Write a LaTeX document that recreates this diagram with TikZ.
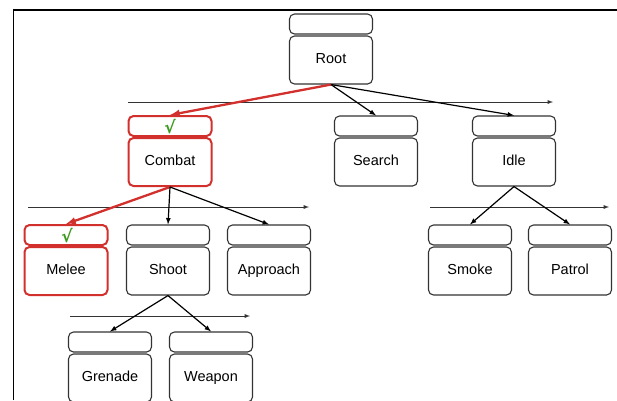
\documentclass[tikz,border=0pt]{standalone}
\usepackage{fontspec}
\setmainfont{Liberation Sans}
\newfontfamily\tickfont{DejaVu Sans}
\usetikzlibrary{arrows}

\definecolor{boxgray}{HTML}{333333}
\definecolor{pickred}{HTML}{D2302C}
\definecolor{tickgreen}{HTML}{3C9A1E}

\begin{document}
\begin{tikzpicture}
    [
        x=1pt, y=-1pt,
        head/.style={draw=boxgray, rounded corners=5pt, line width=1.1pt,
            minimum width=83pt, minimum height=20pt, inner sep=0pt},
        body/.style={draw=boxgray, rounded corners=5pt, line width=1.1pt,
            minimum width=83pt, minimum height=48pt, inner sep=0pt,
            text height=10pt, text depth=3pt,
            font=\fontsize{14.5}{16}\selectfont},
        picked/.style={draw=pickred, line width=2pt},
        tick/.style={text=tickgreen, inner sep=0pt,
            font=\tickfont\bfseries\fontsize{17}{17}\selectfont},
        edge/.style={-latex, line width=1.2pt},
        chosen/.style={-latex, line width=2.3pt, draw=pickred},
        order/.style={-latex, line width=0.9pt, boxgray},
    ]
    \useasboundingbox (0,0) rectangle (617,400);

    % frame
    \draw [line width=1.6pt] (13.5,400) -- (13.5,10) -- (617,10);

    % root level
    \node (rooth) at (331,24)    [head] {};
    \node (root)  at (331,60)    [body] {Root};

    % first level
    \node (combath) at (170,126) [head, picked] {};
    \node (combat)  at (170,162) [body, picked] {Combat};
    \node (searchh) at (376,126) [head] {};
    \node (search)  at (376,162) [body] {Search};
    \node (idleh)   at (514,126) [head] {};
    \node (idle)    at (514,162) [body] {Idle};

    % second level
    \node (meleeh)    at (66,235)  [head, picked] {};
    \node (melee)     at (66,271)  [body, picked] {Melee};
    \node (shooth)    at (168,235) [head] {};
    \node (shoot)     at (168,271) [body] {Shoot};
    \node (approachh) at (269,235) [head] {};
    \node (approach)  at (269,271) [body] {Approach};
    \node (smokeh)    at (470,235) [head] {};
    \node (smoke)     at (470,271) [body] {Smoke};
    \node (patrolh)   at (570,235) [head] {};
    \node (patrol)    at (570,271) [body] {Patrol};

    % third level
    \node (grenadeh) at (110,342) [head] {};
    \node (grenade)  at (110,378) [body] {Grenade};
    \node (weaponh)  at (211,342) [head] {};
    \node (weapon)   at (211,378) [body] {Weapon};

    % ticks
    \node (tick1) at (170,127) [tick] {√};
    \node (tick2) at (67,236)  [tick] {√};

    % order arrows
    \coordinate (o1s) at (128,102);
    \coordinate (o1e) at (553,102);
    \coordinate (o2s) at (28,207);
    \coordinate (o2e) at (309,207);
    \coordinate (o3s) at (430,207);
    \coordinate (o3e) at (609,207);
    \coordinate (o4s) at (70,316);
    \coordinate (o4e) at (250,316);
    \draw [order] (o1s) -- (o1e);
    \draw [order] (o2s) -- (o2e);
    \draw [order] (o3s) -- (o3e);
    \draw [order] (o4s) -- (o4e);

    % edges
    \draw [chosen] (root.south) -- (combath.north);
    \draw [edge] (root.south) -- (searchh.north);
    \draw [edge] (root.south) -- (idleh.north);
    \draw [chosen] (combat.south) -- (meleeh.north);
    \draw [edge] (combat.south) -- (shooth.north);
    \draw [edge] (combat.south) -- (approachh.north);
    \draw [edge] (idle.south) -- (smokeh.north);
    \draw [edge] (idle.south) -- (patrolh.north);
    \draw [edge] (shoot.south) -- (grenadeh.north);
    \draw [edge] (shoot.south) -- (weaponh.north);
\end{tikzpicture}
\end{document}
